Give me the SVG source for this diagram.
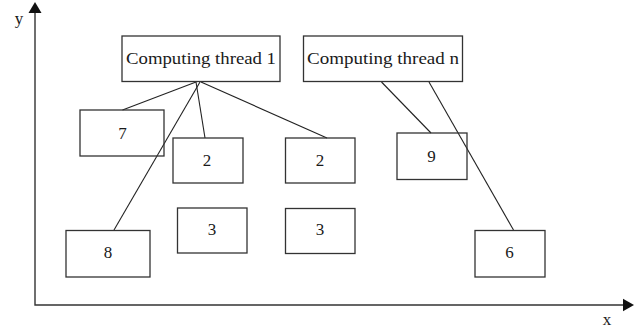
<svg xmlns="http://www.w3.org/2000/svg" width="640" height="332" viewBox="0 0 640 332">
  <style>
    .box { fill: none; stroke: #333; stroke-width: 1.3; }
    .lbl { font-family: "Liberation Serif", "Times New Roman", serif; font-size: 17px; fill: #1a1a1a; text-anchor: middle; }
    .edge { stroke: #222; stroke-width: 1.1; fill: none; }
    .axis { stroke: #333; stroke-width: 1.4; fill: none; }
  </style>
  <rect width="640" height="332" fill="#fff"/>

  <!-- axes -->
  <g id="axes">
    <polyline class="axis" points="35,11 35,305 624,305"/>
    <polygon points="35,2 41.5,13 28.5,13" fill="#111"/>
    <polygon points="634,305 623,298.8 623,311.2" fill="#111"/>
    <text class="lbl" x="19" y="24">y</text>
    <text class="lbl" x="607" y="325">x</text>
  </g>

  <!-- connectors -->
  <g id="connectors">
    <line class="edge" x1="196" y1="82" x2="122.5" y2="110"/>
    <line class="edge" x1="196" y1="82" x2="205" y2="138"/>
    <line class="edge" x1="201" y1="82" x2="327" y2="138"/>
    <line class="edge" x1="200" y1="82" x2="114" y2="230"/>
    <line class="edge" x1="381.5" y1="82" x2="431" y2="133"/>
    <line class="edge" x1="429" y1="82" x2="513.5" y2="230"/>
  </g>

  <!-- nodes -->
  <g id="thread1">
    <rect class="box" x="122" y="36" width="158" height="45.5"/>
    <text class="lbl" x="201" y="64" textLength="150" lengthAdjust="spacingAndGlyphs">Computing thread 1</text>
  </g>
  <g id="threadn">
    <rect class="box" x="303.5" y="36" width="159" height="45.5"/>
    <text class="lbl" x="383" y="64" textLength="152" lengthAdjust="spacingAndGlyphs">Computing thread n</text>
  </g>
  <g id="n7">
    <rect class="box" x="80" y="110" width="84" height="46"/>
    <text class="lbl" x="122.5" y="138.5">7</text>
  </g>
  <g id="n2a">
    <rect class="box" x="173" y="138" width="70" height="45"/>
    <text class="lbl" x="207" y="165.5">2</text>
  </g>
  <g id="n2b">
    <rect class="box" x="285.5" y="138" width="69.5" height="45"/>
    <text class="lbl" x="320" y="165.5">2</text>
  </g>
  <g id="n9">
    <rect class="box" x="397" y="133" width="70" height="46.5"/>
    <text class="lbl" x="431.5" y="162">9</text>
  </g>
  <g id="n3a">
    <rect class="box" x="177.5" y="208" width="69.5" height="45"/>
    <text class="lbl" x="212" y="235">3</text>
  </g>
  <g id="n3b">
    <rect class="box" x="285.5" y="208.5" width="69.5" height="45"/>
    <text class="lbl" x="320" y="235">3</text>
  </g>
  <g id="n8">
    <rect class="box" x="66" y="230.5" width="84" height="46.5"/>
    <text class="lbl" x="108" y="258">8</text>
  </g>
  <g id="n6">
    <rect class="box" x="475" y="230.5" width="70" height="46.5"/>
    <text class="lbl" x="509.5" y="258">6</text>
  </g>
</svg>
